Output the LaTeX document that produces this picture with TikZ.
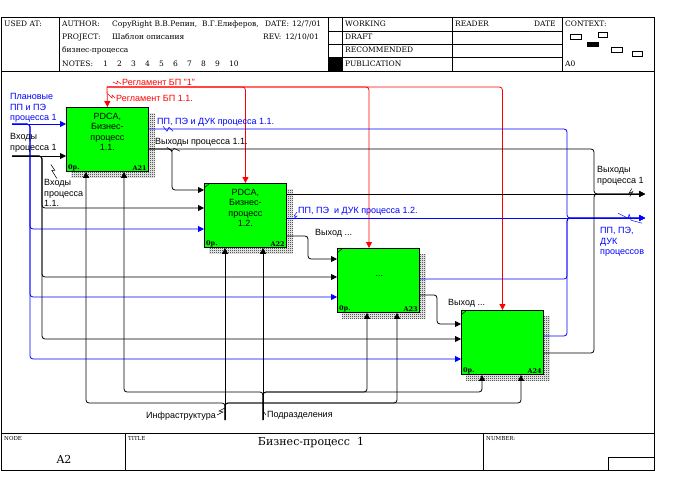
\documentclass[tikz,border=0pt]{standalone}
\usepackage{fontspec}
\setmainfont{Liberation Sans}
\newfontfamily\hdrfont{DejaVu Serif}
\usetikzlibrary{arrows.meta, calc, positioning, backgrounds, patterns.meta}
\definecolor{boxgreen}{RGB}{0,255,0}
\definecolor{ctlred}{RGB}{255,0,0}
\definecolor{planblue}{RGB}{0,0,255}
\tikzdeclarepattern{
  name=dither,
  type=uncolored,
  bounding box={(0pt,0pt) and (2pt,2pt)},
  tile size={(2pt,2pt)},
  code={
    \pgfpathrectangle{\pgfpoint{0pt}{0pt}}{\pgfpoint{1pt}{1pt}}
    \pgfpathrectangle{\pgfpoint{1pt}{1pt}}{\pgfpoint{1pt}{1pt}}
    \pgfusepath{fill}
  }
}

\begin{document}
\begin{tikzpicture}[
    x=1pt, y=-1pt,
    >={Triangle[length=6pt,width=6pt]},
    every node/.style={font=\fontsize{9}{10.5}\selectfont, inner sep=0pt},
    proc/.style ={draw, line width=0.9pt, fill=boxgreen, anchor=north west,
                  minimum width=82pt, minimum height=64pt},
    boxtxt/.style={align=center, font=\fontsize{9}{10.5}\selectfont},
    hdr/.style  ={font=\hdrfont\fontsize{7.5}{8}\selectfont, anchor=west},
    tiny/.style ={font=\hdrfont\fontsize{5.5}{6}\selectfont, anchor=north west},
    cornertxt/.style={font=\hdrfont\bfseries\fontsize{6.5}{7}\selectfont},
    rim/.style  ={line width=0.9pt},
    wire/.style ={line width=0.8pt, rounded corners=3pt},
    blk/.style  ={wire, ->},
    plan/.style ={wire, ->, planblue},
    ctl/.style  ={wire, ->, ctlred},
    lbl/.style  ={anchor=west, align=left},
    zig/.style  ={line width=0.5pt},
]
\useasboundingbox (0,0) rectangle (680,495);

% --- form: header and footer ---
\draw[rim] (1,17) rectangle (654,470);
\draw[rim] (1,71) -- (654,71);
\draw[rim] (1,433) -- (654,433);
\foreach \x in {59,328,342,452,562} \draw[rim] (\x,17) -- (\x,71);
\foreach \y in {31,44,57} \draw[rim] (328,\y) -- (562,\y);
\fill (328,57) rectangle (342,71);
\node[hdr] (usedat)  at (4,24)   {USED AT:};
\node[hdr] (author)  at (62,24)  {AUTHOR:};
\node[hdr] (authnm)  at (112,24) {CopyRight В.В.Репин,\ \ В.Г.Елиферов,};
\node[hdr] (datekey) at (265,24) {DATE:};
\node[hdr] (dateval) at (292,24) {12/7/01};
\node[hdr] (project) at (62,37)  {PROJECT:};
\node[hdr] (projnm)  at (112,37) {Шаблон описания};
\node[hdr] (revkey)  at (263,37) {REV:};
\node[hdr] (revval)  at (285,37) {12/10/01};
\node[hdr] (projnm2) at (62,50)  {бизнес-процесса};
\node[hdr] (notes)   at (62,64)  {NOTES:};
\foreach \n [count=\i] in {1,...,10}
  \node[hdr] (note\i) at ({89+14*\i},64) {\n};
\node[hdr] (working) at (345,24) {WORKING};
\node[hdr] (draft)   at (345,37) {DRAFT};
\node[hdr] (recomm)  at (345,50) {RECOMMENDED};
\node[hdr] (publ)    at (345,64) {PUBLICATION};
\node[hdr] (reader)  at (455,24) {READER};
\node[hdr] (rdate)   at (534,24) {DATE};
\node[hdr] (context) at (565,24) {CONTEXT:};
\node[hdr] (ctxnode) at (565,64) {A0};
% context thumbnails
\draw[line width=0.6pt] (570,34) rectangle (581,39);
\draw[line width=0.6pt] (598,32) rectangle (607,37);
\fill (587,42) rectangle (599,47);
\draw[line width=0.6pt] (611,47) rectangle (622,52);
\draw[line width=0.6pt] (632,51) rectangle (642,56);
\draw[rim] (125,433) -- (125,470);
\draw[rim] (483,433) -- (483,470);
\draw[rim] (608,470) |- (654,457);
\node[tiny] (nodekey)  at (4,436)   {NODE};
\node[tiny] (titlekey) at (128,436) {TITLE};
\node[tiny] (numkey)   at (486,436) {NUMBER:};
\node[font=\hdrfont\fontsize{11}{12}\selectfont] (nodeval) at (64,459) {A2};
\node[font=\hdrfont\fontsize{11}{12}\selectfont] (title) at (311,443) {Бизнес-процесс\ \ 1};

% --- activity boxes ---
\node[proc] (A21) at (66,107)  {};
\node[proc] (A22) at (204,183) {};
\node[proc] (A23) at (337,248) {};
\node[proc] (A24) at (461,310) {};
\node[boxtxt, below=6pt of A21.north] (A21txt) {PDCA,\\Бизнес-\\процесс\\1.1.};
\node[boxtxt, below=6pt of A22.north] (A22txt) {PDCA,\\Бизнес-\\процесс\\1.2.};
\node[boxtxt] (A23txt) at ($(A23.center)+(1,-4)$) {...};
\foreach \b in {A21,A22,A23,A24} {
  \node[cornertxt, above right=1pt and 2pt of \b.south west] (\b op) {0р.};
  \node[cornertxt, above left=1pt and 2pt of \b.south east] (\b no) {\b};
}
\foreach \b in {A22,A23,A24}
  \draw[line width=0.5pt] ($(\b.north west)+(0,5)$) -- ++(6,-5);
\begin{scope}[on background layer]
  \foreach \b in {A21,A22,A23,A24}
    \fill[pattern=dither, pattern color=black]
      ($(\b.north west)+(5,6)$) rectangle ($(\b.south east)+(6,6)$);
\end{scope}

% --- inputs from the left border ---
\coordinate (planin)  at (12,124);
\coordinate (inputin) at (12,156);
\draw[plan] (planin) -- (A21.west |- planin);
\draw[plan] (planin) -| (30,229) -- (A22.west |- 0,229);
\draw[plan] (planin) -| (30,297) -- (A23.west |- 0,297);
\draw[plan] (planin) -| (30,359) -- (A24.west |- 0,359);
\draw[blk] (inputin) -- (A21.west |- inputin);
\draw[blk] (inputin) -| (42,208) -- (A22.west |- 0,208);
\draw[blk] (inputin) -| (42,277) -- (A23.west |- 0,277);
\draw[blk] (inputin) -| (42,339) -- (A24.west |- 0,339);

% --- controls ---
\coordinate (ctlin) at (107,87);
\draw[ctl] (ctlin) -- (A21.north);
\draw[ctl] (ctlin) -| (A22.north);
\draw[ctl] (ctlin) -| (A23.north -| 369,0);
\draw[ctl] (ctlin) -| (A24.north);

% --- outputs ---
\coordinate (planout) at (645,218);
\coordinate (outout)  at (645,194);
\draw[plan] (A21.east |- 0,129) -| (567,218) -- (planout);
\draw[plan] (A22.east |- 0,218) -- (planout);
\draw[plan] (A23.east |- 0,279) -| (567,218) -- (planout);
\draw[plan] (A24.east |- 0,336) -| (567,218) -- (planout);
\draw[blk] (A21.east |- 0,149) -| (594,194) -- (outout);
\draw[blk] (A21.east |- 0,149) -- (172,149) |- (A22.west |- 0,190);
\draw[blk] (A22.east |- 0,194) -- (outout);
\draw[blk] (A22.east |- 0,236) -- (308,236) |- (A23.west |- 0,259);
\draw[blk] (A23.east |- 0,295) -- (437,295) |- (A24.west |- 0,324);
\draw[blk] (A24.east |- 0,353) -| (594,194) -- (outout);

% --- mechanisms ---
\coordinate (infra) at (225,420);
\coordinate (depts) at (263,420);
\draw[blk] (infra) -- (A22.south -| infra);
\draw[blk] (infra) |- (86,403) -- (A21.south -| 86,0);
\draw[blk] (infra) |- (397,403) -- (A23.south -| 397,0);
\draw[blk] (infra) |- (521,403) -- (A24.south -| 521,0);
\draw[blk] (depts) -- (A22.south -| depts);
\draw[blk] (depts) |- (124,392) -- (A21.south -| 124,0);
\draw[blk] (depts) |- (367,392) -- (A23.south -| 367,0);
\draw[blk] (depts) |- (482,392) -- (A24.south -| 482,0);

% --- arrow labels ---
\node[lbl, ctlred] (reg1)  at (122,82) {Регламент БП "1"};
\node[lbl, ctlred] (reg11) at (116,98) {Регламент БП 1.1.};
\node[lbl, planblue] (planlbl) at (10,108) {Плановые\\ПП и ПЭ\\процесса 1};
\node[lbl] (inlbl)   at (10,143) {Входы\\процесса 1};
\node[lbl] (in11lbl) at (44,193) {Входы\\процесса\\1.1.};
\node[lbl, planblue] (dpk11) at (157,122) {ПП, ПЭ и ДУК процесса 1.1.};
\node[lbl] (out11) at (155,142) {Выходы процесса 1.1.};
\node[lbl, planblue] (dpk12) at (298,211) {ПП, ПЭ\ \ и ДУК процесса 1.2.};
\node[lbl] (out22) at (315,233) {Выход ...};
\node[lbl] (out23) at (448,303) {Выход ...};
\node[lbl] (out1)  at (597,176) {Выходы\\процесса 1};
\node[lbl, planblue] (dpkall) at (600,242) {ПП, ПЭ,\\ДУК\\процессов};
\node[anchor=east] (infralbl) at (216,416) {Инфраструктура};
\node[anchor=west] (deptlbl)  at (267,415) {Подразделения};
% squiggles tying labels to their arrows
\draw[zig, ctlred] (reg1.west) ++(-1,2) -- ++(-4,-3) -- ++(0,3) -- ++(-4,-2);
\draw[zig, ctlred] (reg11.west) ++(-1,0) -- ++(-3,-3) -- ++(0,3) -- ++(-4,-4);
\draw[zig, planblue] (dpk11.south west) ++(6,0) -- ++(4,5) -- ++(2,-4) -- ++(4,4);
\draw[zig] (out11.south west) ++(12,1) -- ++(5,4) -- ++(2,-3) -- ++(6,3);
\draw[zig] (inlbl.south east) ++(-6,12) -- ++(4,6) -- ++(-3,0) -- ++(5,8);
\draw[zig, planblue] (dpk12.west) ++(-1,1) -- ++(-3,4) -- ++(3,0) -- ++(-4,3);
\draw[zig] (out1.south east) ++(-12,3) -- ++(-3,5) -- ++(4,-2) -- ++(-3,5);
\draw[zig, planblue] (dpkall.north) ++(-4,-14) -- ++(10,5) -- ++(1,-4) -- ++(2,6) -- ++(11,3);
\draw[zig] (infralbl.east) ++(1,-1) -- ++(6,-3) -- ++(-4,-1) -- ++(6,-3);
\draw[zig] (deptlbl.west) ++(-1,0) -- ++(-3,-4);
\end{tikzpicture}
\end{document}
